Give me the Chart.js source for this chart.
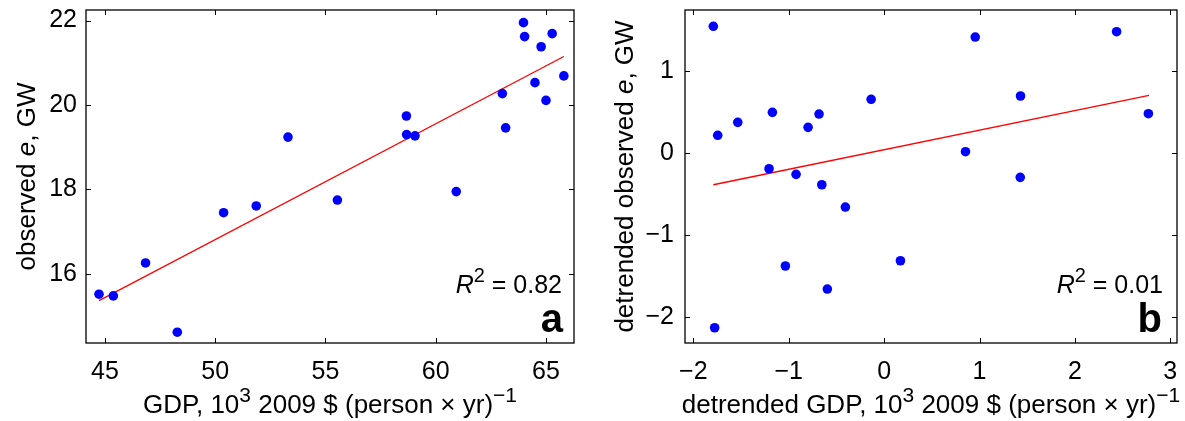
<!DOCTYPE html>
<html>
<head>
<meta charset="utf-8">
<script src="https://cdn.jsdelivr.net/npm/chart.js@4.4.0/dist/chart.umd.min.js"></script>
<style>
  html, body { margin: 0; padding: 0; background: #fff; }
  #wrap { position: relative; width: 1185px; height: 421px; overflow: hidden; }
  .pane { position: absolute; top: 0; height: 421px; }
  #pa { left: 0; width: 592px; }
  #pb { left: 592px; width: 593px; }
</style>
</head>
<body>
<div id="wrap">
  <div class="pane" id="pa"><canvas id="ca"></canvas></div>
  <div class="pane" id="pb"><canvas id="cb"></canvas></div>
</div>
<script>
// ---------- DATA ----------
// Panel a: GDP (10^3 2009 $ per person-yr) vs observed e (GW)
const gdpA = [63.98, 64.03, 65.28, 64.78, 65.81, 64.50, 63.02, 65.00, 63.17, 58.67, 58.68,
              59.06, 53.30, 60.93, 55.54, 51.86, 50.38, 46.84, 44.73, 45.38, 48.28];
const eA   = [21.95, 21.62, 21.69, 21.38, 20.69, 20.53, 20.27, 20.11, 19.46, 19.74, 19.30,
              19.27, 19.24, 17.95, 17.75, 17.61, 17.45, 16.26, 15.52, 15.48, 14.62];
const fitXA = [44.73, 65.81];
const fitYA = [15.37, 21.15];
const xTicksA = [45, 50, 55, 60, 65];
const yTicksA = [16, 18, 20, 22];

// Panel b: detrended GDP vs detrended observed e
const gdpB = [-1.79, 0.955, 2.437, 1.43, -0.136, -1.171, -0.682, 2.77, -1.534, -0.797, -1.744,
              0.853, -1.206, -0.923, 1.427, -0.653, -0.406, 0.171, -1.035, -0.595, -1.776];
const eB   = [1.549, 1.418, 1.483, 0.699, 0.659, 0.50, 0.479, 0.483, 0.378, 0.317, 0.22,
              0.02, -0.188, -0.256, -0.293, -0.383, -0.655, -1.31, -1.374, -1.655, -2.127];
const fitXB = [-1.79, 2.777];
const fitYB = [-0.383, 0.707];
const xTicksB = [-2, -1, 0, 1, 2, 3];
const yTicksB = [-2, -1, 0, 1];

const r2A = "0.82", r2B = "0.01";
const panelA = "a", panelB = "b";

// ---------- RENDER ----------
const FONT = '"Liberation Sans", Arial, Helvetica, sans-serif';
function fmt(v) { return (v < 0 ? '\u2212' : '') + Math.abs(v); }
function pts(xs, ys) { return xs.map((x, i) => ({ x: x, y: ys[i] })); }

function drawRuns(ctx, runs, x, y, align) {
  let total = 0;
  runs.forEach(r => { ctx.font = r.font; r.w = ctx.measureText(r.text).width; total += r.w + (r.gap || 0); });
  let cx = align === 'right' ? x - total : (align === 'center' ? x - total / 2 : x);
  ctx.textBaseline = 'alphabetic';
  ctx.textAlign = 'left';
  runs.forEach(r => {
    ctx.font = r.font;
    ctx.fillText(r.text, cx, y - (r.dy || 0));
    cx += r.w + (r.gap || 0);
  });
}

const N = '26px ' + FONT, I = 'italic 26px ' + FONT, S = '21px ' + FONT;
const RN = '25px ' + FONT, RI = 'italic 25px ' + FONT, RS = '20px ' + FONT;
const B = 'bold 40px ' + FONT;

function framePlugin(cfg) {
  return {
    id: 'frame',
    afterDraw(chart) {
      const ctx = chart.ctx, a = chart.chartArea;
      const xs = chart.scales.x, ys = chart.scales.y;
      ctx.save();
      ctx.strokeStyle = '#000';
      ctx.lineWidth = 1.3;
      ctx.strokeRect(a.left, a.top, a.right - a.left, a.bottom - a.top);
      const tl = 5;
      ctx.lineWidth = 1;
      ctx.beginPath();
      cfg.xTicks.forEach(v => {
        const px = Math.round(xs.getPixelForValue(v)) + 0.5;
        ctx.moveTo(px, a.bottom); ctx.lineTo(px, a.bottom - tl);
        ctx.moveTo(px, a.top); ctx.lineTo(px, a.top + tl);
      });
      cfg.yTicks.forEach(v => {
        const py = Math.round(ys.getPixelForValue(v)) + 0.5;
        ctx.moveTo(a.left, py); ctx.lineTo(a.left + tl, py);
        ctx.moveTo(a.right, py); ctx.lineTo(a.right - tl, py);
      });
      ctx.stroke();

      ctx.fillStyle = '#000';
      // x title
      drawRuns(ctx, cfg.xTitle, (a.left + a.right) / 2, cfg.xTitleY, 'center');
      // y title
      ctx.save();
      ctx.translate(cfg.yTitleX, (a.top + a.bottom) / 2);
      ctx.rotate(-Math.PI / 2);
      drawRuns(ctx, cfg.yTitle, 0, 0, 'center');
      ctx.restore();
      // R^2
      drawRuns(ctx, [
        { text: 'R', font: RI },
        { text: '2', font: RS, dy: 11 },
        { text: ' = ' + cfg.r2, font: RN }
      ], a.right - cfg.rMargin, 293, 'right');
      // panel letter
      drawRuns(ctx, [{ text: cfg.letter, font: B }], a.right - cfg.lMargin, 332, 'right');
      ctx.restore();
    }
  };
}

function makeChart(id, o) {
  return new Chart(document.getElementById(id), {
    type: 'scatter',
    data: {
      datasets: [
        {
          data: pts(o.gx, o.ey),
          backgroundColor: '#0000ff',
          borderColor: '#0000ff',
          pointRadius: 4.8,
          pointBorderWidth: 0,
          pointHoverRadius: 4.8
        },
        {
          data: pts(o.fx, o.fy),
          showLine: true,
          borderColor: '#ff0000',
          borderWidth: 1.3,
          pointRadius: 0,
          fill: false
        }
      ]
    },
    options: {
      responsive: false,
      animation: false,
      events: [],
      devicePixelRatio: 1,
      layout: { padding: { top: 10, right: o.padRight, left: 0, bottom: 0 } },
      plugins: { legend: { display: false }, tooltip: { enabled: false } },
      scales: {
        x: {
          type: 'linear',
          min: o.xmin, max: o.xmax,
          grid: { display: false, drawTicks: false },
          border: { display: false },
          afterBuildTicks: s => { s.ticks = o.xTicks.map(v => ({ value: v })); },
          afterFit: s => { s.height = 78; s.paddingLeft = 0; s.paddingRight = 0; },
          ticks: {
            padding: 14,
            color: '#000',
            font: { family: FONT, size: 25 },
            maxRotation: 0,
            callback: v => fmt(v)
          }
        },
        y: {
          type: 'linear',
          min: o.ymin, max: o.ymax,
          grid: { display: false, drawTicks: false },
          border: { display: false },
          afterBuildTicks: s => { s.ticks = o.yTicks.map(v => ({ value: v })); },
          afterFit: s => { s.width = o.yWidth; s.paddingTop = 0; s.paddingBottom = 0; },
          ticks: {
            padding: o.yPad,
            color: '#000',
            font: { family: FONT, size: 25 },
            callback: v => fmt(v)
          }
        }
      }
    },
    plugins: [framePlugin(o)]
  });
}

const ca = document.getElementById('ca'); ca.width = 592; ca.height = 421;
const cb = document.getElementById('cb'); cb.width = 593; cb.height = 421;

makeChart('ca', {
  gx: gdpA, ey: eA, fx: fitXA, fy: fitYA,
  xmin: 44.14, xmax: 66.27, ymin: 14.365, ymax: 22.25,
  xTicks: xTicksA, yTicks: yTicksA,
  padRight: 18, yWidth: 86, yPad: 9,
  xTitleY: 413, yTitleX: 35,
  xTitle: [
    { text: 'GDP, 10', font: N },
    { text: '3', font: S, dy: 11 },
    { text: ' 2009 $ (person \u00d7 yr)', font: N },
    { text: '\u22121', font: S, dy: 11 }
  ],
  yTitle: [
    { text: 'observed ', font: N },
    { text: 'e', font: I },
    { text: ', GW', font: N }
  ],
  r2: r2A, letter: panelA, rMargin: 12, lMargin: 11
});

makeChart('cb', {
  gx: gdpB, ey: eB, fx: fitXB, fy: fitYB,
  xmin: -2.087, xmax: 3.07, ymin: -2.313, ymax: 1.748,
  xTicks: xTicksB, yTicks: yTicksB,
  padRight: 8, yWidth: 93, yPad: 11,
  xTitleY: 413, yTitleX: 41,
  xTitle: [
    { text: 'detrended GDP, 10', font: N },
    { text: '3', font: S, dy: 11 },
    { text: ' 2009 $ (person \u00d7 yr)', font: N },
    { text: '\u22121', font: S, dy: 11 }
  ],
  yTitle: [
    { text: 'detrended observed ', font: N },
    { text: 'e', font: I },
    { text: ', GW', font: N }
  ],
  r2: r2B, letter: panelB, rMargin: 14, lMargin: 15
});
</script>
</body>
</html>
